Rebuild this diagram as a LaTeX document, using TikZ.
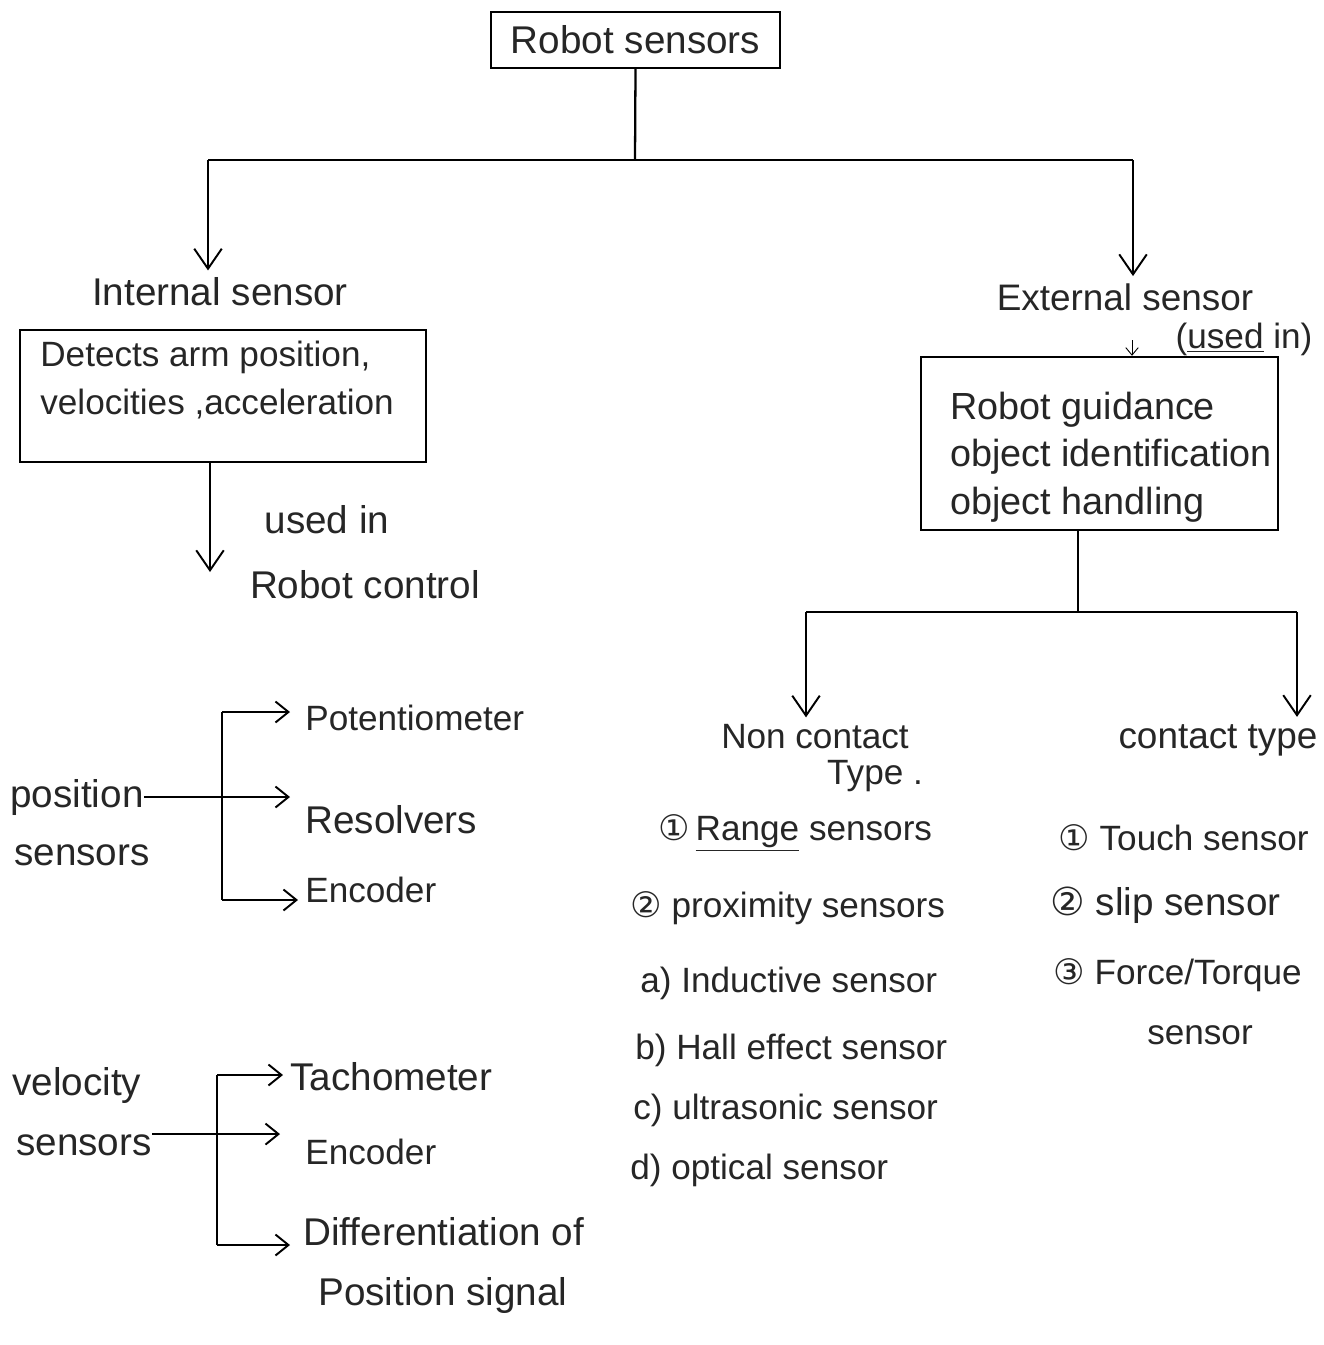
\documentclass[tikz,border=0pt]{standalone}
\usepackage{fontspec}
\setmainfont{Liberation Sans}
\newfontfamily\symfont{DejaVu Sans}
\usetikzlibrary{arrows.meta}
\newcommand\cnum[1]{{\symfont #1}}
\begin{document}
\begin{tikzpicture}[x=0.02cm,y=-0.02cm,
  every node/.style={font=\fontsize{20}{27}\selectfont, inner sep=0pt, text=black!85},
  big/.style={font=\fontsize{22}{27}\selectfont},
  box/.style={draw, line width=1.4pt, inner sep=0pt},
  lines/.style={align=left, anchor=west},
  wire/.style={line width=1.3pt},
  arr/.style={wire, -{Straight Barb[length=4mm,width=5.5mm,line width=1.1pt]}},
  sarr/.style={wire, -{Straight Barb[length=2.6mm,width=4.2mm,line width=1.1pt]}},
  tarr/.style={line width=0.5pt, -{Straight Barb[length=1.5mm,width=2.5mm]}},
  lbl/.style={anchor=west},
]
\useasboundingbox[fill=white] (0,0) rectangle (1324,1345);

% root and first split
\node[box, minimum width=5.78cm, minimum height=1.12cm, font=\fontsize{22}{27}\selectfont]
  (root) at (635.5,40) {Robot sensors};
\coordinate (rootj) at (635,160);
\coordinate (lj) at (208,160);
\coordinate (rj) at (1133,160);
\node[big] (int) at (220,292) {Internal sensor};
\node[font=\fontsize{21}{27}\selectfont] (ext) at (1125,297) {External sensor};
\node (usedin) at (1244,339) {(\underline{used} in)};
\draw[wire] (root.south) -- (rootj);
\draw[wire] (lj) -- (rj);
\draw[arr, shorten >=4pt] (lj) -- (lj |- int.north);
\draw[arr, shorten >=4pt] (rj) -- (rj |- ext.north);

% internal sensor branch
\node[box, minimum width=8.12cm, minimum height=2.64cm] (intbox) at (223,396) {};
\node[lines] (inttext) at (40,380) {Detects arm position,\\velocities ,acceleration};
\coordinate (ctl) at (210,572);
\draw[arr] (intbox.south -| ctl) -- (ctl);
\node[big] (usedin2) at (327,520) {used in};
\node[big] (ctrl) at (365,585) {Robot control};

% external sensor branch
\node[box, minimum width=7.14cm, minimum height=3.46cm] (extbox) at (1099.5,443.5) {};
\node[lines, font=\fontsize{21.5}{27}\selectfont] (exttext) at (950,457)
  {Robot guidance\\object identification\\object handling};
\coordinate (extfoot) at (1132,340);
\draw[tarr] (extfoot) -- (extfoot |- extbox.north);
\coordinate (ej) at (1078,612);
\coordinate (nl) at (806,612);
\coordinate (nr) at (1297,612);
\draw[wire] (extbox.south -| ej) -- (ej);
\draw[wire] (nl) -- (nr);
\node (nonc) at (815,737) {Non contact};
\node (ntype) at (875,776) {Type .};
\node[font=\fontsize{21}{27}\selectfont] (cont) at (1218,740) {contact type};
\draw[arr, shorten >=4pt] (nl) -- (nl |- nonc.north);
\draw[arr, shorten >=4pt] (nr) -- (nr |- cont.north);

% non contact list
\node[lbl] (r1) at (658,833) {\cnum{①}\,\underline{Range} sensors};
\node[lbl] (r2) at (630,908) {\cnum{②} proximity sensors};
\node[lbl] (ra) at (640,983) {a) Inductive sensor};
\node[lbl] (rb) at (635,1050) {b) Hall effect sensor};
\node[lbl] (rc) at (633,1110) {c) ultrasonic sensor};
\node[lbl] (rd) at (630,1170) {d) optical sensor};

% contact list
\node[lbl] (c1) at (1058,838) {\cnum{①} Touch sensor};
\node[lbl, big] (c2) at (1050,905) {\cnum{②} slip sensor};
\node[lbl] (c3) at (1053,975) {\cnum{③} Force/Torque};
\node (c3b) at (1200,1035) {sensor};

% position sensors
\node[lbl, big] (pos) at (10,797) {position};
\node[lbl, big] (poss) at (14,855) {sensors};
\node[lbl] (pot) at (305,718) {Potentiometer};
\node[lbl, big] (res) at (305,820) {Resolvers};
\node[lbl] (penc) at (305,890) {Encoder};
\coordinate (ptop) at (222,712);
\coordinate (pbot) at (222,900);
\draw[wire] (ptop) -- (pbot);
\draw[sarr, shorten >=0.3cm] (ptop) -- (ptop -| pot.west);
\draw[sarr, shorten >=0.3cm] (pos.east) -- (pos.east -| res.west);
\draw[sarr, shorten >=0.14cm] (pbot) -- (pbot -| penc.west);

% velocity sensors
\node[lbl, big] (vel) at (12,1085) {velocity};
\node[lbl, big] (vels) at (16,1145) {sensors};
\node[lbl, big] (tach) at (290,1077) {Tachometer};
\node[lbl] (venc) at (305,1152) {Encoder};
\node[lbl, big] (diff) at (303,1232) {Differentiation of};
\node[lbl, big] (psig) at (318,1295) {Position signal};
\coordinate (vtop) at (217,1075);
\coordinate (vbot) at (217,1245);
\draw[wire] (vtop) -- (vbot);
\draw[sarr, shorten >=0.14cm] (vtop) -- (vtop -| tach.west);
\draw[sarr, shorten >=0.5cm] (vels.north east) -- (vels.north east -| venc.west);
\draw[sarr, shorten >=0.26cm] (vbot) -- (vbot -| diff.west);
\end{tikzpicture}
\end{document}
